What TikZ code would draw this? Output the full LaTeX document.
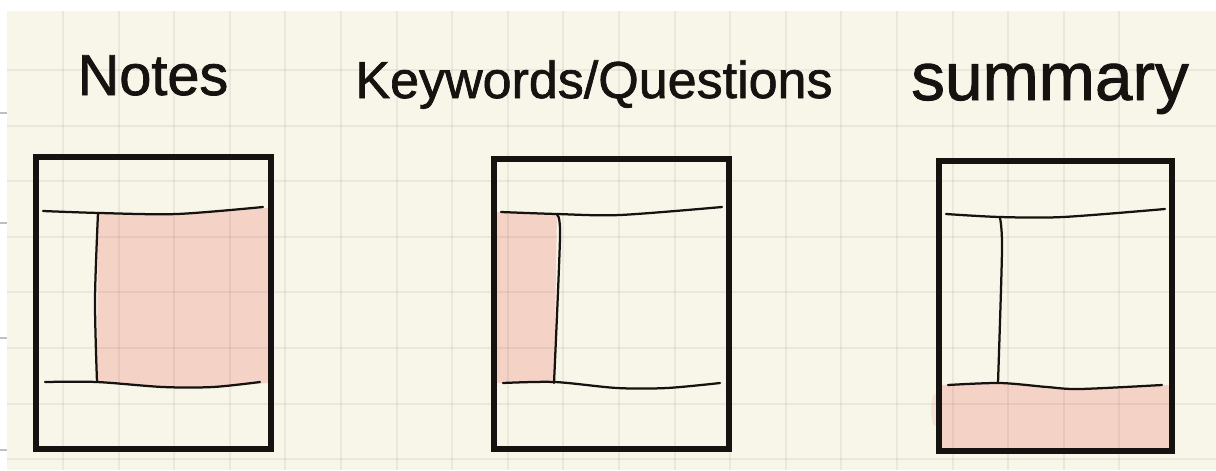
\documentclass[tikz,border=0pt]{standalone}
\usepackage{fontspec}
\setmainfont{Liberation Sans}
\newfontfamily\handfont[FakeBold=1.3]{Liberation Sans}
\definecolor{paper}{RGB}{248,245,233}
\definecolor{blush}{RGB}{244,211,198}
\definecolor{ink}{RGB}{22,18,16}
\tikzset{
  frame/.style={draw=ink, line width=3.6pt},
  rule/.style={draw=ink, line width=1.6pt, line cap=round},
  gridline/.style={draw=black, opacity=0.055, line width=1.4pt},
  heading/.style={anchor=base, text=ink, inner sep=0pt, font=\handfont}
}

\begin{document}
\begin{tikzpicture}[x=0.025cm, y=-0.025cm]
  \useasboundingbox (0,0) rectangle (1216,470);
  % paper
  \fill[white] (0,0) rectangle (1216,470);
  \fill[paper] (7,11) rectangle (1216,470);
  \foreach \yy in {113,223,338,450}
    \draw[gray!50, line width=1pt] (0,\yy) -- (7,\yy);

  % highlighted parts
  \fill[blush] (98,213) -- (177,214) -- (269,208) -- (269,383)
    -- (213,387) -- (163,387) -- (97,382) -- cycle;
  \fill[blush] (497,212) -- (557,214) -- (554,383) -- (497,383) -- cycle;
  \fill[blush] (937,385) -- (1000,383) -- (1047,387) -- (1080,389)
    -- (1171,385) -- (1171,451) -- (937,451) -- cycle;
  \fill[blush, opacity=0.5] (935,410) ellipse (4 and 16);

  % grid
  \foreach \k in {1,...,20}
    \draw[gridline] ({7.4+55.6*\k},11) -- ({7.4+55.6*\k},470);
  \foreach \k in {1,...,8}
    \draw[gridline] (7,{14.4+55.6*\k}) -- (1216,{14.4+55.6*\k});

  % headings
  \node[heading] (notes) at (153,95) {\fontsize{41}{41}\selectfont Notes};
  \node[heading] (keys) at (594,98) {\fontsize{37}{37}\selectfont Keywords/Questions};
  \node[heading] (summary) at (1050,100) {\fontsize{48}{48}\selectfont summary};

  % notes layout
  \draw[frame] (36,157) rectangle (271,449);
  \draw[rule] plot[smooth] coordinates {(43,211) (100,213) (177,214) (263,207)};
  \draw[rule] plot[smooth] coordinates {(98,213) (95,300) (97,382)};
  \draw[rule] plot[smooth] coordinates {(45,382) (97,382) (163,387) (213,387) (260,382)};

  % keywords layout
  \draw[frame] (494,159) rectangle (729,449);
  \draw[rule] plot[smooth] coordinates {(501,212) (557,214) (620,215) (722,207)};
  \draw[rule] plot[smooth] coordinates {(557,215) (560,237) (554,383)};
  \draw[rule] plot[smooth] coordinates {(503,383) (555,382) (617,388) (667,388) (720,383)};

  % summary layout
  \draw[frame] (939,161) rectangle (1172,451);
  \draw[rule] plot[smooth] coordinates {(946,214) (1000,217) (1063,217) (1165,209)};
  \draw[rule] plot[smooth] coordinates {(1000,218) (1002,250) (998,383)};
  \draw[rule] plot[smooth] coordinates {(948,385) (1000,383) (1047,387) (1080,389) (1162,385)};
\end{tikzpicture}
\end{document}
